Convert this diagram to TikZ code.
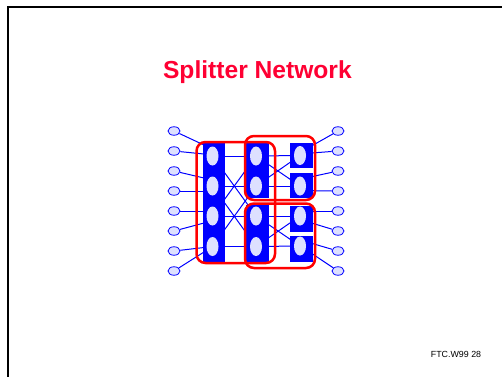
\documentclass[tikz,border=0pt]{standalone}
\usepackage{fontspec}
\setmainfont{Liberation Sans}
\usetikzlibrary{shapes.geometric}
\pgfdeclarelayer{wires}
\pgfdeclarelayer{groups}
\pgfsetlayers{wires,main,groups}

\definecolor{netblue}{RGB}{0,0,255}
\definecolor{cellfill}{RGB}{221,224,255}
\definecolor{grpred}{RGB}{255,0,0}
\definecolor{titlered}{RGB}{255,0,51}

\tikzset{
  port/.style={ellipse, draw=netblue, line width=0.8bp, fill=cellfill,
    minimum width=12bp, minimum height=8.5bp, inner sep=0pt},
  cell/.style={ellipse, fill=cellfill, minimum width=12bp, minimum height=19bp, inner sep=0pt},
  block/.style={rectangle, fill=netblue, inner sep=0pt},
  wire/.style={draw=netblue, line width=1bp},
  group/.style={draw=grpred, line width=2.5bp, rounded corners=9bp},
  frame/.style={draw=black, line width=2bp},
}

\begin{document}
\begin{tikzpicture}[x=1bp,y=-1bp]
\useasboundingbox (0,0) rectangle (502,376);

% slide frame
\draw[frame] (7.5,377) -- (7.5,7) -- (503,7);

% title and footer
\node[anchor=base, text=titlered, font=\bfseries\fontsize{24.7}{30}\selectfont, inner sep=0pt]
  (title) at (257.4,78.3) {Splitter Network};
\node[anchor=base west, font=\fontsize{8.9}{11}\selectfont, inner sep=0pt]
  (footer) at (430.7,357.5) {FTC.W99 28};

% switching blocks
\node[block, minimum width=22bp, minimum height=119bp] (bL) at (214,202.5) {};
\node[block, minimum width=23bp, minimum height=55bp] (bM1) at (257.5,170.5) {};
\node[block, minimum width=23bp, minimum height=57bp] (bM2) at (257.5,233.5) {};
\node[block, minimum width=22.5bp, minimum height=25.3bp] (bR1) at (301.25,155.6) {};
\node[block, minimum width=22.5bp, minimum height=25bp] (bR2) at (301.25,185.8) {};
\node[block, minimum width=22.5bp, minimum height=25.7bp] (bR3) at (301.25,218.8) {};
\node[block, minimum width=22.5bp, minimum height=26bp] (bR4) at (301.25,249) {};

% cells inside the blocks
\foreach \i/\y in {1/156,2/186,3/216,4/246.5}{
  \node[cell] (cL\i) at (212.5,\y) {};
  \node[cell] (cM\i) at (256,\y) {};
}
\foreach \i/\y in {1/155.5,2/186,3/216,4/246}{
  \node[cell] (cR\i) at (300,\y) {};
}

% inputs and outputs
\foreach \i/\y in {1/131,2/151,3/171,4/191,5/211,6/231,7/251,8/271}{
  \node[port] (in\i) at (174,\y) {};
  \node[port] (out\i) at (338,\y) {};
}

% attachment points on the outer block edges
\foreach \i/\y in {1/145,2/154,3/178,4/191,5/211,6/223,7/247.5,8/252}{
  \coordinate (pl\i) at (204,\y);
}
\foreach \i/\y in {1/146,2/153,3/176.7,4/190.7,5/211,6/223,7/243.3,8/253.3}{
  \coordinate (pr\i) at (311.5,\y);
}

% wiring, behind the blocks
\begin{pgfonlayer}{wires}
  \foreach \i in {1,...,8}{
    \draw[wire] (in\i) -- (pl\i);
    \draw[wire] (pr\i) -- (out\i);
  }
  \foreach \i in {1,...,4}{
    \draw[wire] (cL\i) -- (cM\i);
    \draw[wire] (cM\i) -- (cR\i);
  }
  \foreach \a/\b in {1/3,2/4,3/1,4/2}{
    \draw[wire] (cL\a) -- (cM\b);
  }
  \foreach \a/\b in {1/2,2/1,3/4,4/3}{
    \draw[wire] (cM\a) -- (cR\b);
  }
\end{pgfonlayer}

% groupings
\begin{pgfonlayer}{groups}
  \draw[group] (196.5,142) rectangle (275,263);
  \draw[group] (245,136) rectangle (315,200);
  \draw[group] (245,203.5) rectangle (315,268);
\end{pgfonlayer}
\end{tikzpicture}
\end{document}
